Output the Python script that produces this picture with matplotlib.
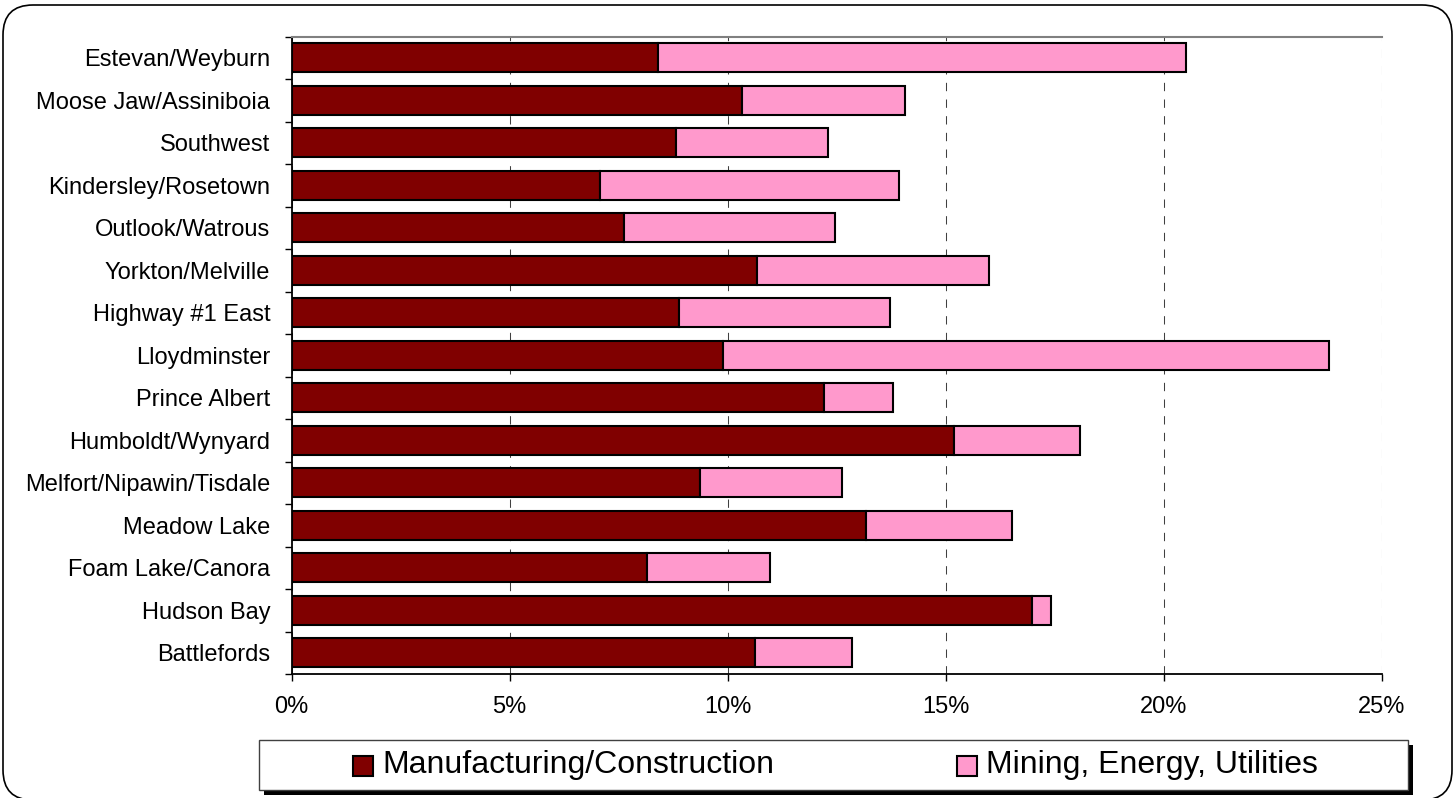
import matplotlib
matplotlib.use("Agg")
import matplotlib.pyplot as plt
from matplotlib.patches import Rectangle, FancyBboxPatch
from matplotlib.ticker import PercentFormatter, FixedLocator

plt.rcParams['font.family'] = ['Liberation Sans', 'DejaVu Sans']

regions = ['Estevan/Weyburn', 'Moose Jaw/Assiniboia', 'Southwest', 'Kindersley/Rosetown',
           'Outlook/Watrous', 'Yorkton/Melville', 'Highway #1 East', 'Lloydminster',
           'Prince Albert', 'Humboldt/Wynyard', 'Melfort/Nipawin/Tisdale', 'Meadow Lake',
           'Foam Lake/Canora', 'Hudson Bay', 'Battlefords']
# share of employment, percent
manufacturing = [8.41, 10.32, 8.82, 7.06, 7.63, 10.68, 8.88, 9.90, 12.20, 15.20,
                 9.37, 13.17, 8.14, 16.98, 10.63]
mining = [12.10, 3.74, 3.49, 6.87, 4.83, 5.32, 4.85, 13.90, 1.59, 2.87,
          3.25, 3.34, 2.83, 0.44, 2.23]
series_names = ['Manufacturing/Construction', 'Mining, Energy, Utilities']
colors = ['#800000', '#FF99CC']
xticks = [0, 5, 10, 15, 20, 25]

W, H = 1455, 798
fig = plt.figure(figsize=(W / 100, H / 100), dpi=100)
ax = fig.add_axes([291.7 / W, 1 - 674 / H, (1381.7 - 291.7) / W, (674 - 36.7) / H])

y = list(range(len(regions)))
ax.barh(y, manufacturing, height=0.68, color=colors[0], edgecolor='black', linewidth=1.5, zorder=3)
ax.barh(y, mining, left=manufacturing, height=0.68, color=colors[1], edgecolor='black',
        linewidth=1.5, zorder=3)

ax.set_ylim(len(regions) - 0.5, -0.5)
ax.set_xlim(0, 25)
ax.set_yticks(y)
ax.set_yticklabels(regions, fontsize=17)
ax.yaxis.set_minor_locator(FixedLocator([i - 0.5 for i in range(len(regions) + 1)]))
ax.tick_params(axis='y', which='major', length=0, pad=15.5)
ax.tick_params(axis='y', which='minor', length=5, width=1, direction='out')
ax.set_xticks(xticks)
ax.xaxis.set_major_formatter(PercentFormatter(xmax=100, decimals=0))
ax.tick_params(axis='x', length=5, width=1, direction='out', labelsize=17, pad=11)

ax.grid(axis='x', color='#404040', linewidth=0.75, linestyle=(0, (8, 8)), zorder=0)
for s in ['left', 'bottom']:
    ax.spines[s].set_linewidth(1.3)
ax.spines['top'].set_color('#808080')
ax.spines['top'].set_linewidth(1.5)
ax.spines['right'].set_visible(False)

# outer rounded frame
frame = FancyBboxPatch((0.03, -0.02), 14.49, 7.95, boxstyle='round,pad=0,rounding_size=0.3',
                       transform=fig.dpi_scale_trans, facecolor='none', edgecolor='black',
                       linewidth=1.2)
fig.add_artist(frame)

# legend box with shadow
lx0, lx1, ly0, ly1 = 259, 1408, 740, 790
shadow = Rectangle(((lx0 + 5) / W, 1 - (ly1 + 5) / H), (lx1 - lx0) / W, (ly1 - ly0) / H,
                   transform=fig.transFigure, facecolor='black', edgecolor='none')
box = Rectangle((lx0 / W, 1 - ly1 / H), (lx1 - lx0) / W, (ly1 - ly0) / H,
                transform=fig.transFigure, facecolor='white', edgecolor='#404040', linewidth=1)
fig.add_artist(shadow)
fig.add_artist(box)
for name, col, mx in zip(series_names, colors, [353, 957]):
    fig.add_artist(Rectangle((mx / W, 1 - 776 / H), 20 / W, 20 / H, transform=fig.transFigure,
                             facecolor=col, edgecolor='black', linewidth=1.5))
    fig.text((mx + 29) / W, 1 - 765 / H, name, fontsize=23, va='center', ha='left')

fig.savefig('out.png', dpi=100)
